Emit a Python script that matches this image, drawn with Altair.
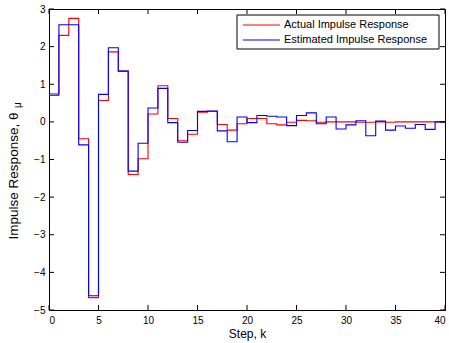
import altair as alt
import pandas as pd

# ---- data ----
steps = list(range(41))
actual = [0.70, 2.30, 2.75, -0.45, -4.67, 0.57, 1.86, 1.35, -1.40, -0.98,
          0.21, 0.96, 0.09, -0.50, -0.33, 0.26, 0.28, -0.07, -0.22, -0.05,
          0.09, 0.09, -0.05, -0.08, -0.01, 0.04, 0.03, -0.01, 0.00, 0.00,
          0.00, -0.01, -0.01, 0.00, -0.01, 0.00, 0.00, 0.00, 0.00, 0.00, 0.00]
estimated = [0.74, 2.58, 2.58, -0.61, -4.62, 0.73, 1.97, 1.35, -1.31, -0.57,
             0.37, 0.89, -0.02, -0.54, -0.23, 0.28, 0.29, -0.24, -0.53, 0.13,
             -0.02, 0.17, 0.15, 0.13, -0.10, 0.17, 0.24, -0.05, 0.13, -0.19,
             -0.08, 0.03, -0.37, 0.02, -0.22, -0.11, -0.17, -0.07, -0.20, 0.00, 0.00]
series_names = ["Actual Impulse Response", "Estimated Impulse Response"]
series_colors = ["#ff0000", "#0000ff"]
x_ticks = [0, 5, 10, 15, 20, 25, 30, 35, 40]
y_ticks = [-5, -4, -3, -2, -1, 0, 1, 2, 3]
x_title = "Step, k"
y_title_main = "Impulse Response, θ"
y_title_sub = "μ"

W, H = 396, 301
FONT = "Liberation Sans"

df = pd.DataFrame({
    "k": steps * 2,
    "value": actual + estimated,
    "series": [series_names[0]] * len(steps) + [series_names[1]] * len(steps),
})

xscale = alt.Scale(domain=[0, 40], nice=False, zero=False)
yscale = alt.Scale(domain=[-5, 3], nice=False, zero=False)

xaxis = alt.Axis(values=x_ticks, title=x_title, ticks=False,
                 grid=False, labelFontSize=10, labelPadding=5,
                 labelOverlap=False,
                 titleFontSize=12, titlePadding=3,
                 titleFontWeight="normal", labelColor="black",
                 titleColor="black", domainColor="black",
                 labelFont=FONT, titleFont=FONT)
yaxis = alt.Axis(values=y_ticks, title=None, ticks=False,
                 grid=False, labelFontSize=10, labelPadding=4,
                 labelOverlap=False,
                 labelColor="black", domainColor="black",
                 labelFont=FONT)

lines = []
for name, color in zip(series_names, series_colors):
    lines.append(
        alt.Chart(df[df["series"] == name]).mark_line(
            interpolate="step-after", color=color, strokeWidth=1.1
        ).encode(
            x=alt.X("k:Q", scale=xscale, axis=xaxis),
            y=alt.Y("value:Q", scale=yscale, axis=yaxis),
        )
    )

xt = pd.DataFrame({"k": x_ticks})
yt = pd.DataFrame({"value": y_ticks})
tick_layers = [
    alt.Chart(xt).mark_rule(color="black", strokeWidth=1).encode(
        x=alt.X("k:Q", scale=xscale, axis=xaxis), y=alt.value(H), y2=alt.value(H - 5)),
    alt.Chart(xt).mark_rule(color="black", strokeWidth=1).encode(
        x=alt.X("k:Q", scale=xscale, axis=xaxis), y=alt.value(0), y2=alt.value(5)),
    alt.Chart(yt).mark_rule(color="black", strokeWidth=1).encode(
        y=alt.Y("value:Q", scale=yscale, axis=yaxis), x=alt.value(0), x2=alt.value(5)),
    alt.Chart(yt).mark_rule(color="black", strokeWidth=1).encode(
        y=alt.Y("value:Q", scale=yscale, axis=yaxis), x=alt.value(W), x2=alt.value(W - 5)),
]

# y-axis title with subscript
ytitle = alt.Chart(pd.DataFrame({"t": [y_title_main]})).mark_text(
    angle=270, align="center", baseline="middle", fontSize=13.5, font=FONT,
    color="black").encode(text="t:N", x=alt.value(-35), y=alt.value(167))
ysub = alt.Chart(pd.DataFrame({"t": [y_title_sub]})).mark_text(
    angle=270, align="center", baseline="middle", fontSize=10, font=FONT,
    color="black").encode(text="t:N", x=alt.value(-31), y=alt.value(96))

# legend box
leg_df = pd.DataFrame({"dummy": [0]})
legend_layers = [
    alt.Chart(leg_df).mark_rect(fill="white", stroke="black", strokeWidth=1).encode(
        x=alt.value(188), x2=alt.value(390), y=alt.value(6), y2=alt.value(40)),
]
for i, (name, color) in enumerate(zip(series_names, series_colors)):
    yy = 16 + 15 * i
    legend_layers.append(
        alt.Chart(leg_df).mark_rule(color=color, strokeWidth=1).encode(
            x=alt.value(194), x2=alt.value(231), y=alt.value(yy)))
    legend_layers.append(
        alt.Chart(pd.DataFrame({"t": [name]})).mark_text(
            align="left", baseline="middle", fontSize=11, font=FONT,
            color="black").encode(text="t:N", x=alt.value(235), y=alt.value(yy)))

chart = alt.layer(*lines, *tick_layers, ytitle, ysub, *legend_layers).properties(
    width=W, height=H,
    padding={"left": 49, "top": 9, "right": 4, "bottom": 33},
    autosize=alt.AutoSizeParams(type="none"),
    background="white",
).configure_view(stroke="black", strokeWidth=1).configure_axis(labelOverlap=False)

chart.save("out.html", embed_options={"renderer": "svg", "actions": False})
